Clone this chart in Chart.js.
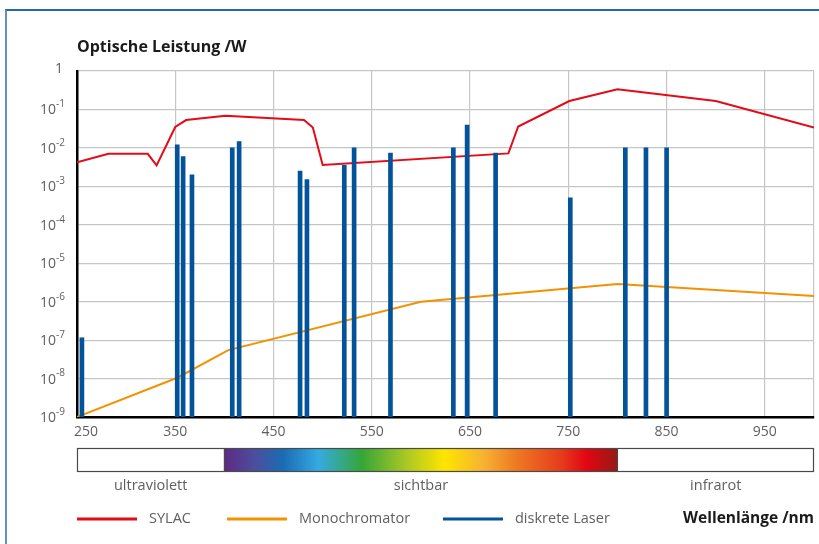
<!DOCTYPE html>
<html>
<head>
<meta charset="utf-8">
<script src="https://cdn.jsdelivr.net/npm/chart.js@4.4.1/dist/chart.umd.min.js"></script>
<style>
  html, body { margin: 0; padding: 0; background: #fff; }
  #wrap { position: relative; width: 819px; height: 544px; overflow: hidden; }
  #frame { position: absolute; left: 5px; top: 9px; width: 900px; height: 600px;
           border-top: 2px solid #2368ac; border-left: 2px solid #5c94c9; }
  #chart { position: absolute; left: 0; top: 0; }
</style>
</head>
<body>
<div id="wrap">
  <div id="frame"></div>
  <canvas id="chart" width="819" height="544"></canvas>
</div>
<script>
// SYLAC output power (W) vs wavelength (nm)
const sylacNm = [250, 282, 322, 331, 350, 361, 401, 481, 490, 500, 689, 699, 751, 800, 900, 1000];
const sylacW  = [4.2e-3, 7e-3, 7e-3, 3.5e-3, 3.5e-2, 5.3e-2, 6.9e-2, 5.3e-2, 3.4e-2, 3.6e-3, 7.2e-3, 3.6e-2, 0.166, 0.333, 0.166, 3.4e-2];

// Monochromator output power
const monoNm = [250, 352, 404, 600, 800, 1000];
const monoW  = [1e-9, 1.05e-8, 5.5e-8, 1e-6, 2.9e-6, 1.4e-6];

// discrete lasers
const laserNm = [255, 352, 358, 367, 408, 415, 477, 484, 522, 532, 569, 633, 647, 676, 752, 808, 829, 850];
const laserW  = [1.15e-7, 1.2e-2, 5.9e-3, 2.0e-3, 1e-2, 1.45e-2, 2.5e-3, 1.5e-3, 3.5e-3, 1e-2, 7.3e-3, 1e-2, 3.9e-2, 7.3e-3, 5e-4, 1e-2, 1e-2, 1e-2];

// axes
const xTicks = [250, 350, 450, 550, 650, 750, 850, 950];
const xGrid  = [250, 350, 450, 550, 650, 750, 850, 950, 1000];
const yExp   = [0, -1, -2, -3, -4, -5, -6, -7, -8, -9];

// spectrum band under the axis
const bandEdges  = [250, 400, 800, 1000];
const bandLabels = ['ultraviolett', 'sichtbar', 'infrarot'];

const FONT = '"Open Sans", "DejaVu Sans", sans-serif';
const GREY_TEXT = '#5f5f5f';
const RED = '#e30b17';
const ORANGE = '#f39200';
const BLUE = '#03539b';

const pow10 = (e) => Number('1e' + e);

// Spectrum colour stops (fraction along 400..800 nm)
const SPECTRUM = [
  [0.00, '#5e2a84'], [0.08, '#4a4f9f'], [0.15, '#1a6cb4'], [0.24, '#35aae2'],
  [0.35, '#35a637'], [0.46, '#a7c725'], [0.56, '#ffe500'], [0.66, '#f7b133'],
  [0.74, '#ee7b22'], [0.86, '#e53a1c'], [0.92, '#e20613'], [1.00, '#961915'],
];

const decorPlugin = {
  id: 'decor',
  afterDraw(chart) {
    const { ctx, chartArea: area, scales: { x, y } } = chart;
    ctx.save();

    // title
    ctx.fillStyle = '#1a1a1a';
    ctx.font = 'bold 16px ' + FONT;
    ctx.textAlign = 'left';
    ctx.textBaseline = 'middle';
    ctx.fillText('Optische Leistung /W', area.left, 47);

    // y tick labels with superscript exponents
    ctx.fillStyle = GREY_TEXT;
    const labelRight = area.left - 12;
    yExp.forEach((e) => {
      const py = y.getPixelForValue(pow10(e));
      if (e === 0) {
        ctx.font = '14px ' + FONT;
        ctx.textAlign = 'right';
        ctx.fillText('1', labelRight - 2, py - 2);
        return;
      }
      const sup = String(e);
      ctx.font = '10px ' + FONT;
      const wSup = ctx.measureText(sup).width;
      ctx.textAlign = 'left';
      ctx.fillText(sup, labelRight - wSup, py - 5);
      ctx.font = '14px ' + FONT;
      ctx.textAlign = 'right';
      ctx.fillText('10', labelRight - wSup, py + 1);
    });

    // x tick labels
    ctx.font = '14px ' + FONT;
    ctx.textAlign = 'left';
    xTicks.forEach((v) => {
      const t = String(v);
      const w = ctx.measureText(t).width;
      const left = Math.max(x.getPixelForValue(v) - w / 2, area.left - 3);
      ctx.fillText(t, left, 432);
    });

    // spectrum band
    const top = 448, h = 23;
    const px = bandEdges.map((v) => x.getPixelForValue(v));
    const grad = ctx.createLinearGradient(px[1], 0, px[2], 0);
    SPECTRUM.forEach(([f, c]) => grad.addColorStop(f, c));
    ctx.fillStyle = '#fff';
    ctx.fillRect(px[0], top, px[3] - px[0], h);
    ctx.fillStyle = grad;
    ctx.fillRect(px[1], top, px[2] - px[1], h);
    ctx.strokeStyle = '#4a4a4a';
    ctx.lineWidth = 1.2;
    ctx.strokeRect(px[0] + 0.5, top + 0.5, px[3] - px[0] - 1, h);
    ctx.beginPath();
    ctx.moveTo(px[1], top); ctx.lineTo(px[1], top + h);
    ctx.moveTo(px[2], top); ctx.lineTo(px[2], top + h);
    ctx.stroke();

    ctx.fillStyle = GREY_TEXT;
    ctx.font = '14.5px ' + FONT;
    ctx.textAlign = 'center';
    bandLabels.forEach((lab, i) => {
      ctx.fillText(lab, (px[i] + px[i + 1]) / 2, 486);
    });

    // legend
    const ly = 519;
    const items = [['SYLAC', RED, 77], ['Monochromator', ORANGE, 227], ['diskrete Laser', BLUE, 443]];
    ctx.font = '14.5px ' + FONT;
    items.forEach(([lab, col, lx]) => {
      ctx.strokeStyle = col;
      ctx.lineWidth = 3;
      ctx.beginPath();
      ctx.moveTo(lx, ly); ctx.lineTo(lx + 60, ly);
      ctx.stroke();
      ctx.fillStyle = GREY_TEXT;
      ctx.textAlign = 'left';
      ctx.fillText(lab, lx + 72, ly);
    });

    // x axis title
    ctx.fillStyle = '#1a1a1a';
    ctx.font = 'bold 15.5px ' + FONT;
    ctx.textAlign = 'right';
    ctx.fillText('Wellenlänge /nm', area.right, ly);

    ctx.restore();
  },
};

new Chart(document.getElementById('chart'), {
  type: 'line',
  data: {
    datasets: [
      {
        type: 'bar',
        label: 'diskrete Laser',
        data: laserNm.map((nm, i) => ({ x: nm, y: laserW[i] })),
        backgroundColor: BLUE,
        borderWidth: 0,
        barThickness: 4,
        order: 0,
      },
      {
        label: 'SYLAC',
        data: sylacNm.map((nm, i) => ({ x: nm, y: sylacW[i] })),
        borderColor: RED,
        borderWidth: 2,
        pointRadius: 0,
        tension: 0,
        order: 1,
      },
      {
        label: 'Monochromator',
        data: monoNm.map((nm, i) => ({ x: nm, y: monoW[i] })),
        borderColor: ORANGE,
        borderWidth: 2,
        pointRadius: 0,
        tension: 0,
        order: 2,
      },
    ],
  },
  options: {
    responsive: false,
    animation: false,
    layout: { padding: { left: 77, right: 5, top: 71, bottom: 127 } },
    plugins: { legend: { display: false }, tooltip: { enabled: false } },
    scales: {
      x: {
        type: 'linear',
        min: 250,
        max: 1000,
        offset: false,
        afterBuildTicks(scale) { scale.ticks = xGrid.map((v) => ({ value: v })); },
        ticks: { display: false },
        grid: {
          offset: false,
          drawTicks: false,
          tickLength: 0,
          lineWidth: 1.2,
          color: (c) => (c.tick && c.tick.value === 250 ? 'rgba(0,0,0,0)' : '#c6c6c6'),
        },
        border: { display: true, color: '#000', width: 2.5 },
      },
      y: {
        type: 'logarithmic',
        min: 1e-9,
        max: 1,
        afterBuildTicks(scale) { scale.ticks = yExp.map((e) => ({ value: pow10(e) })); },
        ticks: { display: false },
        grid: {
          drawTicks: false,
          tickLength: 0,
          lineWidth: 1.2,
          color: (c) => (c.tick && c.tick.value === 1e-9 ? 'rgba(0,0,0,0)' : '#c6c6c6'),
        },
        border: { display: true, color: '#000', width: 2.5 },
      },
    },
  },
  plugins: [decorPlugin],
});
</script>
</body>
</html>
